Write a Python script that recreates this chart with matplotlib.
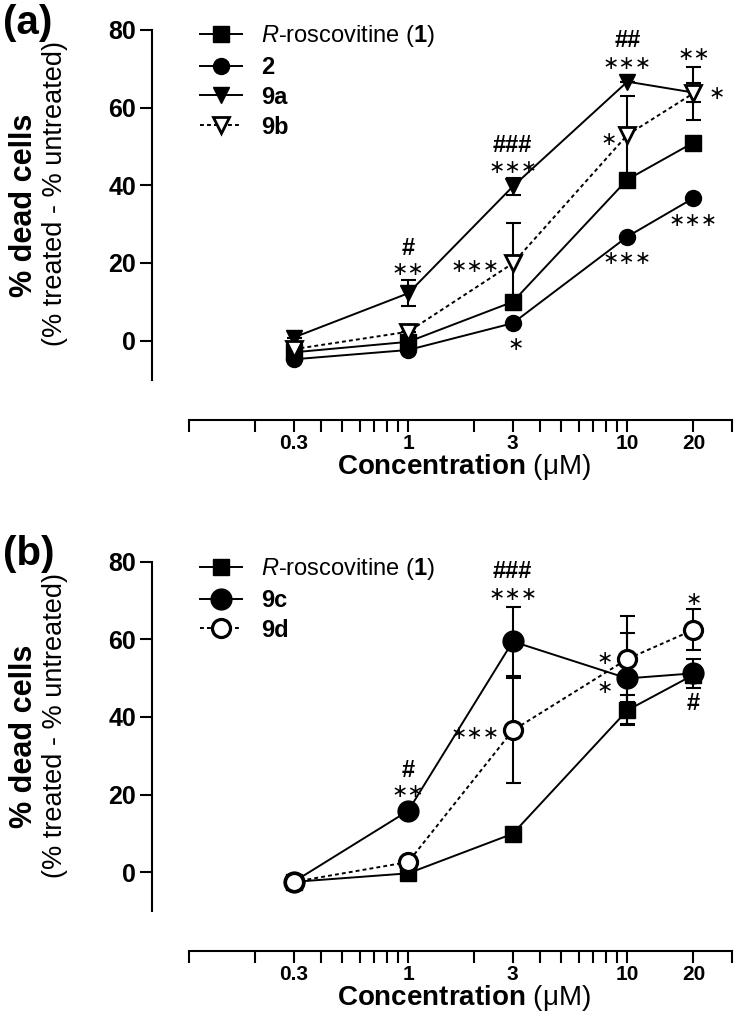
import numpy as np
import matplotlib
matplotlib.use("Agg")
import matplotlib.pyplot as plt
from matplotlib.ticker import NullLocator

plt.rcParams['font.family'] = ['Liberation Sans', 'DejaVu Sans']
plt.rcParams['mathtext.fontset'] = 'custom'
plt.rcParams['mathtext.rm'] = 'Liberation Sans'
plt.rcParams['mathtext.it'] = 'Liberation Sans:italic'
plt.rcParams['mathtext.bf'] = 'Liberation Sans:bold'

# concentrations (uM)
conc = [0.3, 1, 3, 10, 20]

# panel (a)
rosc_a = [-3.0, -0.3, 10.0, 41.5, 51.0]
rosc_a_err = [0, 0, 0, 0, 0]
cpd2 = [-4.8, -2.4, 4.5, 26.8, 36.7]
cpd2_err = [0, 0, 0, 0, 0]
cpd9a = [0.8, 12.2, 39.7, 66.7, 63.9]
cpd9a_err = [0, 3.4, 2.2, 0, 2.4]
cpd9b = [-2.2, 2.3, 19.9, 53.0, 63.7]
cpd9b_err = [0, 0, 10.3, 10.0, 6.8]

# panel (b)
rosc_b = [-2.5, -0.3, 9.9, 41.7, 50.8]
rosc_b_err = [0, 0, 0, 3.8, 0]
cpd9c = [-2.5, 15.8, 59.4, 49.9, 51.2]
cpd9c_err = [0, 0, 9.0, 11.8, 3.7]
cpd9d = [-2.5, 2.6, 36.5, 54.9, 62.4]
cpd9d_err = [0, 0, 13.5, 11.1, 5.3]

# significance marks: (x, y, text, ha)
marks_a = [(1, 18.2, "∗∗", "center"), (1, 23.8, "#", "center"),
           (3, 44.6, "∗∗∗", "center"), (3, 50.2, "###", "center"),
           (2.6, 19.0, "∗∗∗", "right"), (3.1, -1.1, "∗", "center"),
           (10, 71.5, "∗∗∗", "center"), (10, 77.2, "##", "center"),
           (8.2, 51.9, "∗", "center"), (10, 21.2, "∗∗∗", "center"),
           (20, 73.6, "∗∗", "center"), (25.5, 63.7, "∗", "center"),
           (20, 30.9, "∗∗∗", "center")]
marks_b = [(1, 20.7, "∗∗", "center"), (1, 26.2, "#", "center"),
           (3, 71.6, "∗∗∗", "center"), (3, 77.3, "###", "center"),
           (2.6, 35.7, "∗∗∗", "right"),
           (7.9, 54.9, "∗", "center"), (7.9, 47.5, "∗", "center"),
           (20, 70.3, "∗", "center"), (20, 43.4, "#", "center")]

xtick_pos = [0.1, 0.2, 0.3, 0.4, 0.5, 0.6, 0.7, 0.8, 0.9,
             1, 2, 3, 4, 5, 6, 7, 8, 9, 10, 20, 30]
xtick_lab = {0.3: "0.3", 1: "1", 3: "3", 10: "10", 20: "20"}
yticks = [0, 20, 40, 60, 80]

W, H = 738, 1033
fig = plt.figure(figsize=(W / 100, H / 100), dpi=100)


def px_axes(left, right, top, bottom):
    return fig.add_axes([left / W, 1 - bottom / H, (right - left) / W, (bottom - top) / H])


def style(ax):
    ax.set_xscale('log')
    ax.set_xlim(0.1, 30)
    ax.set_ylim(-10, 80)
    ax.patch.set_alpha(0)
    for s in ['top', 'right']:
        ax.spines[s].set_visible(False)
    ax.spines['left'].set_position(('outward', 37 * 0.72))
    ax.spines['bottom'].set_position(('outward', 40 * 0.72))
    for s in ['left', 'bottom']:
        ax.spines[s].set_linewidth(1.5)
    ax.set_xticks(xtick_pos, [xtick_lab.get(t, "") for t in xtick_pos])
    ax.xaxis.set_minor_locator(NullLocator())
    ax.set_yticks(yticks, [str(t) for t in yticks])
    ax.tick_params(axis='y', length=8.5, width=1.5, labelsize=18, pad=3)
    ax.tick_params(axis='x', length=8.6, width=1.5, labelsize=15, pad=1.5)
    for lbl in ax.get_xticklabels() + ax.get_yticklabels():
        lbl.set_fontweight('bold')


def series(ax, y, err, marker, ms, label, filled=True, ls='-', z=3, mew=2.0):
    ax.errorbar(conc, y, yerr=err, fmt='none', ecolor='black', elinewidth=1.5,
                capsize=5.4, capthick=1.5, zorder=z - 0.5)
    ax.plot(conc, y, linestyle=ls, color='black', lw=1.4, marker=marker, ms=ms,
            mfc='black' if filled else 'white', mec='black',
            mew=1.0 if filled else mew, label=label, zorder=z)


def marks(ax, items):
    for x, y, t, ha in items:
        if '#' in t:
            ax.text(x, y, t, ha=ha, va='center', fontsize=17, fontweight='bold',
                    family='Liberation Sans', zorder=6)
        else:
            ax.text(x, y, t, ha=ha, va='center', fontsize=14,
                    family='DejaVu Sans', zorder=6)


def legend(ax, top):
    leg = ax.legend(loc='upper left', bbox_to_anchor=(200 / W, 1 - top / H),
                    bbox_transform=fig.transFigure, frameon=False, fontsize=17,
                    handlelength=1.8, handletextpad=0.8, labelspacing=0.29,
                    borderpad=0, borderaxespad=0)
    for t in leg.get_texts()[1:]:
        t.set_fontweight('bold')


dotted = (0, (2, 1.6))
rosc_label = r"$\mathit{R}$-roscovitine ($\mathbf{1}$)"

# panel (a)
ax1 = px_axes(189, 732, 30, 379.5)
style(ax1)
series(ax1, rosc_a, rosc_a_err, 's', 11.5, rosc_label, z=3)
series(ax1, cpd2, cpd2_err, 'o', 11.5, "2", z=3.2)
series(ax1, cpd9a, cpd9a_err, 'v', 12, "9a", z=3.4)
series(ax1, cpd9b, cpd9b_err, 'v', 12, "9b", filled=False, ls=dotted, z=3.6)
marks(ax1, marks_a)
legend(ax1, 23)

# panel (b)
ax2 = px_axes(189, 732, 561.5, 911)
style(ax2)
series(ax2, rosc_b, rosc_b_err, 's', 11.5, rosc_label, z=3)
series(ax2, cpd9c, cpd9c_err, 'o', 15, "9c", z=3.2)
series(ax2, cpd9d, cpd9d_err, 'o', 13, "9d", filled=False, ls=dotted, z=3.4,
       mew=2.3)
marks(ax2, marks_b)
legend(ax2, 556)

# axis titles and panel letters
for dy, letter in [(0, "(a)"), (531, "(b)")]:
    fig.text(3 / W, 1 - (4 + dy) / H, letter, ha='left', va='top',
             fontsize=29, fontweight='bold')
    fig.text(24 / W, 1 - (205 + dy) / H, "% dead cells", rotation=90,
             ha='center', va='center', fontsize=22, fontweight='bold')
    fig.text(55.5 / W, 1 - (194 + dy) / H, "(% treated - % untreated)", rotation=90,
             ha='center', va='center', fontsize=19.5)
    fig.text(464 / W, 1 - (467 + dy) / H, r"$\mathbf{Concentration}$ (μM)",
             ha='center', va='center', fontsize=20)

fig.savefig("out.png", dpi=100)
